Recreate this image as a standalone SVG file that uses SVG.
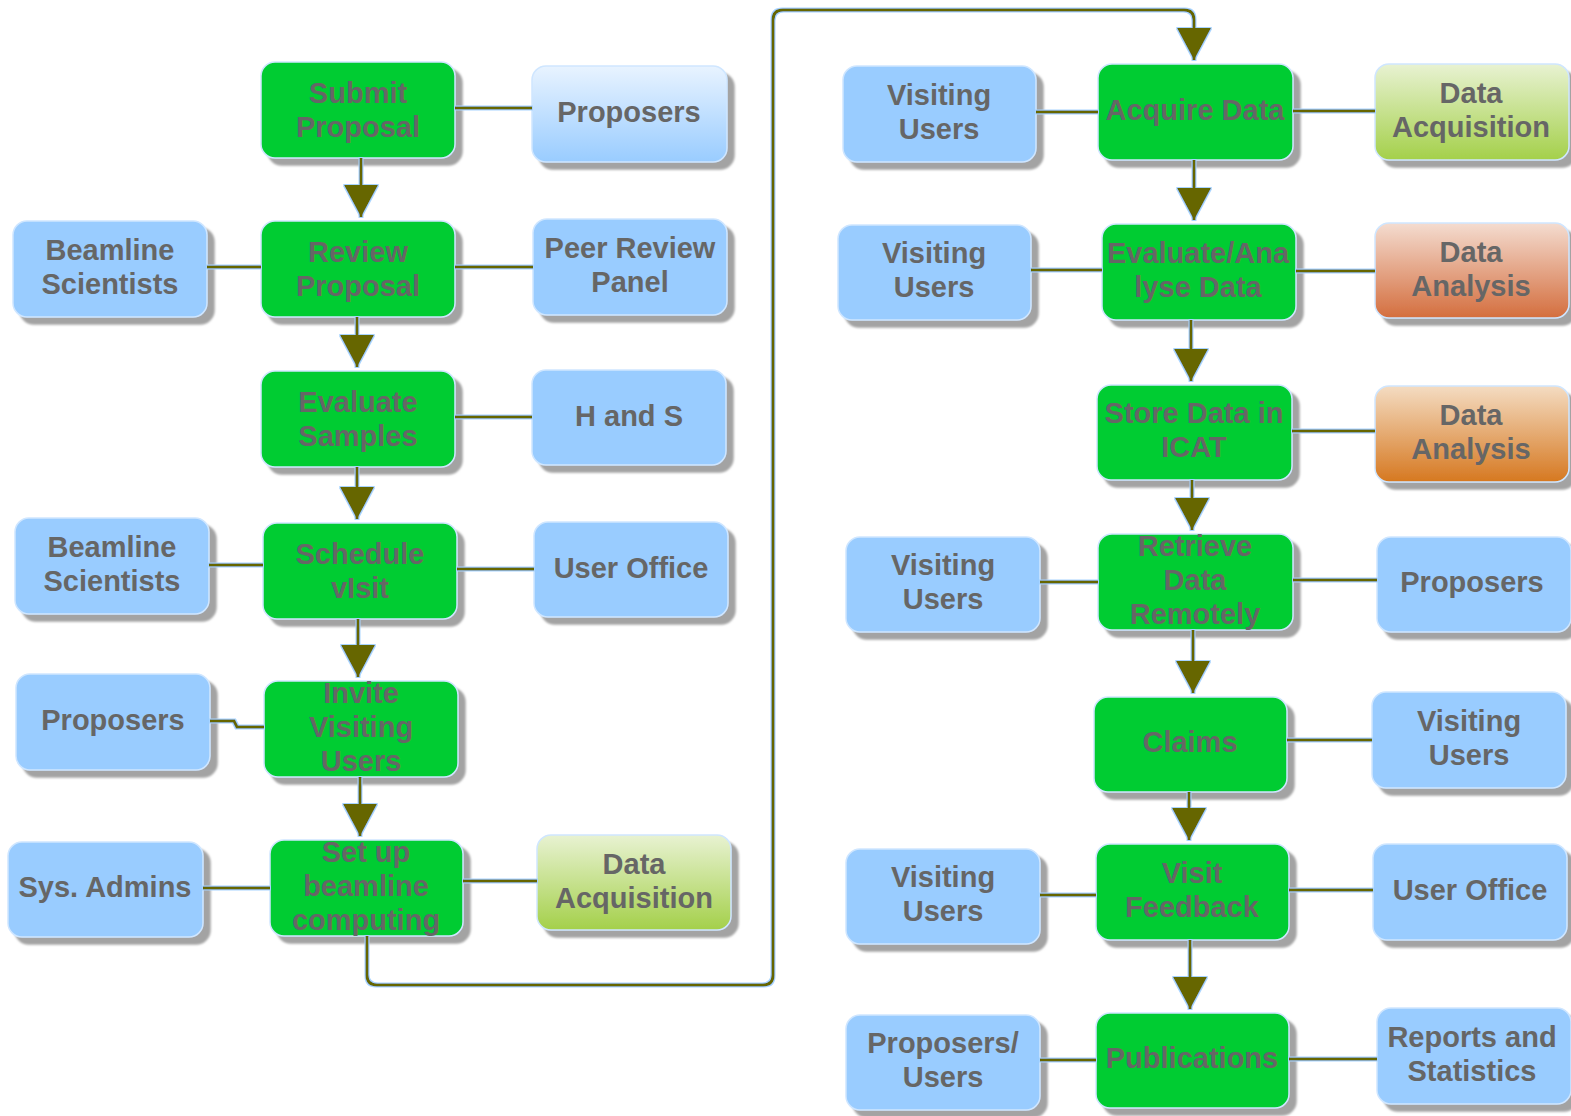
<svg xmlns="http://www.w3.org/2000/svg" width="1571" height="1116" viewBox="0 0 1571 1116">
<style>
.t{font-family:"Liberation Sans",Arial,sans-serif;font-weight:bold;font-size:29px;fill:#666;text-anchor:middle}
.box{stroke:#cfe6ff;stroke-width:1.5;filter:url(#shadow)}
.g{fill:#00cc33}
.b{fill:#99ccff}
.gb{fill:url(#gBlue)}
.gg{fill:url(#gGreen)}
.gr{fill:url(#gRed)}
.go{fill:url(#gOrange)}
.c{fill:none;stroke:#666600;stroke-width:3}
.a{marker-end:url(#arr)}
</style>
<defs>
<linearGradient id="gBlue" x1="0" y1="0" x2="0" y2="1"><stop offset="0" stop-color="#e8f3ff"/><stop offset="1" stop-color="#99ccff"/></linearGradient>
<linearGradient id="gGreen" x1="0" y1="0" x2="0" y2="1"><stop offset="0" stop-color="#e8f2d2"/><stop offset="1" stop-color="#a4d04a"/></linearGradient>
<linearGradient id="gRed" x1="0" y1="0" x2="0" y2="1"><stop offset="0" stop-color="#f4dcd0"/><stop offset="1" stop-color="#d46e3e"/></linearGradient>
<linearGradient id="gOrange" x1="0" y1="0" x2="0" y2="1"><stop offset="0" stop-color="#f4dcc2"/><stop offset="1" stop-color="#d67820"/></linearGradient>
<filter id="shadow" x="-5%" y="-5%" width="115%" height="125%">
<feOffset in="SourceAlpha" dx="7" dy="7" result="o"/>
<feGaussianBlur in="o" stdDeviation="1" result="bl"/>
<feFlood flood-color="#a3a3a3"/>
<feComposite in2="bl" operator="in" result="s"/>
<feMerge><feMergeNode in="s"/><feMergeNode in="SourceGraphic"/></feMerge>
</filter>
<filter id="halo" filterUnits="userSpaceOnUse" x="0" y="0" width="1571" height="1116">
<feMorphology in="SourceAlpha" operator="dilate" radius="1" result="d"/>
<feFlood flood-color="#a8d4ff"/>
<feComposite in2="d" operator="in" result="h"/>
<feMerge><feMergeNode in="h"/><feMergeNode in="SourceGraphic"/></feMerge>
</filter>
<marker id="arr" markerUnits="userSpaceOnUse" viewBox="0 0 32 34" refX="32" refY="17" markerWidth="32" markerHeight="34" orient="auto">
<path d="M0,0 L32,17 L0,34 z" fill="#666600"/>
</marker>
</defs>
<rect width="1571" height="1116" fill="#fff"/>
<g id="nodes">
<g id="submit"><rect class="box g" x="261" y="62" width="194" height="96" rx="14"/><text class="t" x="358" y="103">Submit</text><text class="t" x="358" y="137">Proposal</text></g>
<g id="review"><rect class="box g" x="261" y="221" width="194" height="96" rx="14"/><text class="t" x="358" y="262">Review</text><text class="t" x="358" y="296">Proposal</text></g>
<g id="evaluate"><rect class="box g" x="261" y="371" width="194" height="96" rx="14"/><text class="t" x="358" y="412">Evaluate</text><text class="t" x="358" y="446">Samples</text></g>
<g id="schedule"><rect class="box g" x="263" y="523" width="194" height="96" rx="14"/><text class="t" x="360" y="564">Schedule</text><text class="t" x="360" y="598">vIsit</text></g>
<g id="invite"><rect class="box g" x="264" y="681" width="194" height="96" rx="14"/><text class="t" x="361" y="703">Invite</text><text class="t" x="361" y="737">Visiting</text><text class="t" x="361" y="771">Users</text></g>
<g id="setup"><rect class="box g" x="270" y="840" width="193" height="96" rx="14"/><text class="t" x="366" y="862">Set up</text><text class="t" x="366" y="896">beamline</text><text class="t" x="366" y="930">computing</text></g>
<g id="proposers1"><rect class="box gb" x="532" y="66" width="195" height="96" rx="14"/><text class="t" x="629" y="122">Proposers</text></g>
<g id="peer"><rect class="box b" x="533" y="219" width="194" height="96" rx="14"/><text class="t" x="630" y="258">Peer Review</text><text class="t" x="630" y="292">Panel</text></g>
<g id="hands"><rect class="box b" x="532" y="370" width="194" height="95" rx="14"/><text class="t" x="629" y="426">H and S</text></g>
<g id="useroffice1"><rect class="box b" x="534" y="522" width="194" height="95" rx="14"/><text class="t" x="631" y="578">User Office</text></g>
<g id="dataacq1"><rect class="box gg" x="537" y="835" width="194" height="95" rx="14"/><text class="t" x="634" y="874">Data</text><text class="t" x="634" y="908">Acquisition</text></g>
<g id="beam1"><rect class="box b" x="13" y="221" width="194" height="96" rx="14"/><text class="t" x="110" y="260">Beamline</text><text class="t" x="110" y="294">Scientists</text></g>
<g id="beam2"><rect class="box b" x="15" y="518" width="194" height="96" rx="14"/><text class="t" x="112" y="557">Beamline</text><text class="t" x="112" y="591">Scientists</text></g>
<g id="proposers2"><rect class="box b" x="16" y="674" width="194" height="96" rx="14"/><text class="t" x="113" y="730">Proposers</text></g>
<g id="sysadmins"><rect class="box b" x="8" y="842" width="195" height="95" rx="14"/><text class="t" x="105" y="897">Sys. Admins</text></g>
<g id="acquire"><rect class="box g" x="1098" y="64" width="195" height="96" rx="14"/><text class="t" x="1195" y="120">Acquire Data</text></g>
<g id="evalana"><rect class="box g" x="1102" y="224" width="194" height="96" rx="14"/><text class="t" x="1198" y="263">Evaluate/Ana</text><text class="t" x="1198" y="297">lyse Data</text></g>
<g id="store"><rect class="box g" x="1097" y="385" width="195" height="95" rx="14"/><text class="t" x="1194" y="423">Store Data in</text><text class="t" x="1194" y="457">ICAT</text></g>
<g id="retrieve"><rect class="box g" x="1098" y="534" width="195" height="96" rx="14"/><text class="t" x="1195" y="556">Retrieve</text><text class="t" x="1195" y="590">Data</text><text class="t" x="1195" y="624">Remotely</text></g>
<g id="claims"><rect class="box g" x="1094" y="697" width="193" height="95" rx="14"/><text class="t" x="1190" y="752">Claims</text></g>
<g id="visitfb"><rect class="box g" x="1096" y="844" width="193" height="96" rx="14"/><text class="t" x="1192" y="883">Visit</text><text class="t" x="1192" y="917">Feedback</text></g>
<g id="pubs"><rect class="box g" x="1096" y="1013" width="193" height="95" rx="14"/><text class="t" x="1192" y="1068">Publications</text></g>
<g id="dataacq2"><rect class="box gg" x="1375" y="64" width="194" height="96" rx="14"/><text class="t" x="1471" y="103">Data</text><text class="t" x="1471" y="137">Acquisition</text></g>
<g id="da1"><rect class="box gr" x="1375" y="223" width="194" height="95" rx="14"/><text class="t" x="1471" y="262">Data</text><text class="t" x="1471" y="296">Analysis</text></g>
<g id="da2"><rect class="box go" x="1375" y="386" width="194" height="96" rx="14"/><text class="t" x="1471" y="425">Data</text><text class="t" x="1471" y="459">Analysis</text></g>
<g id="proposers3"><rect class="box b" x="1377" y="537" width="194" height="95" rx="14"/><text class="t" x="1472" y="592">Proposers</text></g>
<g id="vuright"><rect class="box b" x="1372" y="692" width="194" height="96" rx="14"/><text class="t" x="1469" y="731">Visiting</text><text class="t" x="1469" y="765">Users</text></g>
<g id="useroffice2"><rect class="box b" x="1373" y="844" width="194" height="96" rx="14"/><text class="t" x="1470" y="900">User Office</text></g>
<g id="reports"><rect class="box b" x="1377" y="1008" width="194" height="96" rx="14"/><text class="t" x="1472" y="1047">Reports and</text><text class="t" x="1472" y="1081">Statistics</text></g>
<g id="vu1"><rect class="box b" x="843" y="66" width="193" height="96" rx="14"/><text class="t" x="939" y="105">Visiting</text><text class="t" x="939" y="139">Users</text></g>
<g id="vu2"><rect class="box b" x="838" y="225" width="193" height="95" rx="14"/><text class="t" x="934" y="263">Visiting</text><text class="t" x="934" y="297">Users</text></g>
<g id="vu3"><rect class="box b" x="846" y="537" width="194" height="95" rx="14"/><text class="t" x="943" y="575">Visiting</text><text class="t" x="943" y="609">Users</text></g>
<g id="vu4"><rect class="box b" x="846" y="849" width="194" height="95" rx="14"/><text class="t" x="943" y="887">Visiting</text><text class="t" x="943" y="921">Users</text></g>
<g id="propusers"><rect class="box b" x="846" y="1015" width="194" height="95" rx="14"/><text class="t" x="943" y="1053">Proposers/</text><text class="t" x="943" y="1087">Users</text></g>
</g>
<g id="connectors" filter="url(#halo)">
<path class="c a" d="M361,158 V217"/>
<path class="c a" d="M357,317 V367"/>
<path class="c a" d="M357,467 V519"/>
<path class="c a" d="M358,619 V677"/>
<path class="c a" d="M360,777 V836"/>
<path class="c a" d="M367,936 V975 Q367,985 377,985 H763 Q773,985 773,975 V20 Q773,10 783,10 H1184 Q1194,10 1194,20 V60"/>
<path class="c a" d="M1194,160 V220"/>
<path class="c a" d="M1191,320 V381"/>
<path class="c a" d="M1192,480 V530"/>
<path class="c a" d="M1193,630 V693"/>
<path class="c a" d="M1189,792 V840"/>
<path class="c a" d="M1190,940 V1009"/>
<path class="c" d="M455,108 H532"/>
<path class="c" d="M455,267 H533"/>
<path class="c" d="M207,267 H261"/>
<path class="c" d="M455,417 H532"/>
<path class="c" d="M209,565 H263"/>
<path class="c" d="M457,569 H534"/>
<path class="c" d="M210,721 H234 L237,727 H264"/>
<path class="c" d="M203,888 H270"/>
<path class="c" d="M463,881 H537"/>
<path class="c" d="M1036,112 H1098"/>
<path class="c" d="M1293,111 H1375"/>
<path class="c" d="M1031,270 H1102"/>
<path class="c" d="M1296,271 H1375"/>
<path class="c" d="M1292,431 H1375"/>
<path class="c" d="M1040,582 H1098"/>
<path class="c" d="M1293,580 H1377"/>
<path class="c" d="M1287,740 H1372"/>
<path class="c" d="M1040,895 H1096"/>
<path class="c" d="M1289,890 H1373"/>
<path class="c" d="M1040,1060 H1096"/>
<path class="c" d="M1289,1059 H1377"/>
</g>
</svg>
